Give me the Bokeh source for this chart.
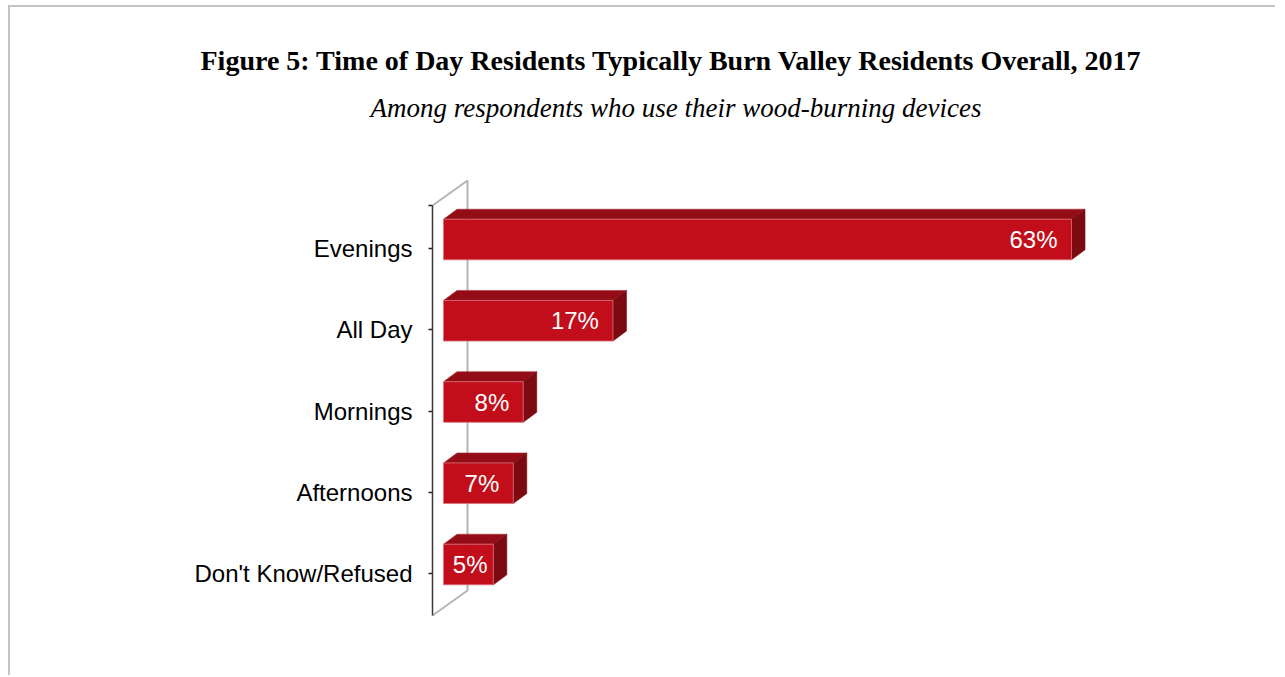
from bokeh.plotting import figure
from bokeh.models import FixedTicker, Range1d, Title
from bokeh.core.properties import value
from bokeh.embed import file_html
from bokeh.resources import INLINE

# ---- data ----
categories = ["Evenings", "All Day", "Mornings", "Afternoons", "Don't Know/Refused"]
values = [63, 17, 8, 7, 5]
title_text = "Figure 5: Time of Day Residents Typically Burn Valley Residents Overall, 2017"
subtitle_text = "Among respondents who use their wood-burning devices"

# ---- geometry helpers (page pixels -> data) ----
OX, OY = 10, 7             # content origin on the page
X0_PX, PX_PER_PCT = 443.0, 628.0 / 63.0
Y0_PX, PX_PER_CAT = 573.0, 81.25

def px_x(px):
    return (px - X0_PX) / PX_PER_PCT

def px_y(py):
    return (Y0_PX - py) / PX_PER_CAT

W, H = 1267, 670
frame_l, frame_t, frame_r, frame_b = 432, 172, 1250, 640

p = figure(width=W, height=H, output_backend="svg", toolbar_location=None,
           x_range=Range1d(px_x(frame_l), px_x(frame_r)),
           y_range=Range1d(px_y(frame_b), px_y(frame_t)),
           x_axis_location=None,
           min_border_left=frame_l - OX, min_border_top=frame_t - OY,
           min_border_right=W - (frame_r - OX), min_border_bottom=H - (frame_b - OY))
p.grid.visible = False
p.outline_line_color = None
p.background_fill_color = "white"
p.border_fill_color = "white"
p.styles = {"border-top": "2px solid #c4c4c4", "border-left": "2px solid #c4c4c4",
            "margin-left": "8px", "margin-top": "5px"}

n = len(categories)
ypos = [n - 1 - i for i in range(n)]
y_top_axis = px_y(205)
y_bot_axis = px_y(615)

# ---- wall ----
wall_dx = 35 / PX_PER_PCT
wall_dy = 25 / PX_PER_CAT
wx = px_x(frame_l)
p.multi_line(xs=[[wx, wx + wall_dx, wx + wall_dx, wx]],
             ys=[[y_top_axis, y_top_axis + wall_dy, y_bot_axis + wall_dy, y_bot_axis]],
             line_color="#b4b4b4", line_width=2)

# ---- 3D bars ----
half = 20.3 / PX_PER_CAT
shift = 9.0 / PX_PER_CAT
ddx = 13.5 / PX_PER_PCT
ddy = 10.0 / PX_PER_CAT
tops = [y + shift + half for y in ypos]
bots = [y + shift - half for y in ypos]

top_xs = [[0, v, v + ddx, ddx] for v in values]
top_ys = [[t, t, t + ddy, t + ddy] for t in tops]
side_xs = [[v, v + ddx, v + ddx, v] for v in values]
side_ys = [[t, t + ddy, b + ddy, b] for t, b in zip(tops, bots)]

p.patches(top_xs, top_ys, fill_color="#930c16", line_color="#a8323b", line_width=0.6)
p.patches(side_xs, side_ys, fill_color="#7b0a11", line_color="#7b0a11", line_width=0.6)
p.quad(left=[0] * n, right=values, top=tops, bottom=bots,
       fill_color="#c20e1b", line_color="#d8707a", line_width=0.8)

# value labels
lab_off = 14 / PX_PER_PCT
lab_min = px_x(487)
p.text(x=[max(v - lab_off, lab_min) for v in values], y=[y + shift for y in ypos],
       text=[f"{v}%" for v in values], text_color="white",
       text_font=value("Liberation Sans"), text_font_size="24px",
       text_align="right", text_baseline="middle")

# ---- axis ----
ax = p.yaxis[0]
ax.ticker = FixedTicker(ticks=ypos + [y_top_axis])
overrides = {y: c for y, c in zip(ypos, categories)}
overrides[y_top_axis] = ""
ax.major_label_overrides = overrides
ax.bounds = (y_bot_axis, y_top_axis)
ax.axis_line_color = "#3a3a3a"
ax.axis_line_width = 1.5
ax.major_tick_line_color = "#222222"
ax.major_tick_line_width = 1.5
ax.major_tick_in = 0
ax.major_tick_out = 4
ax.minor_tick_line_color = None
ax.major_label_standoff = 16
ax.major_label_text_font = "Liberation Sans"
ax.major_label_text_font_size = "24px"
ax.major_label_text_color = "black"

# ---- titles (stacked upward from the plot frame) ----
spacer = Title(text=" ", text_font_size="10px", standoff=37)
sub = Title(text=subtitle_text, align="left", offset=370 - frame_l,
            text_font="Liberation Serif", text_font_style="italic",
            text_font_size="27px", text_color="black", standoff=0)
main = Title(text=title_text, align="left", offset=200 - frame_l,
             text_font="Liberation Serif", text_font_style="bold",
             text_font_size="28px", text_color="black", standoff=30)
p.add_layout(spacer, "above")
p.add_layout(sub, "above")
p.add_layout(main, "above")

open("out.html", "w").write(file_html(p, INLINE))
